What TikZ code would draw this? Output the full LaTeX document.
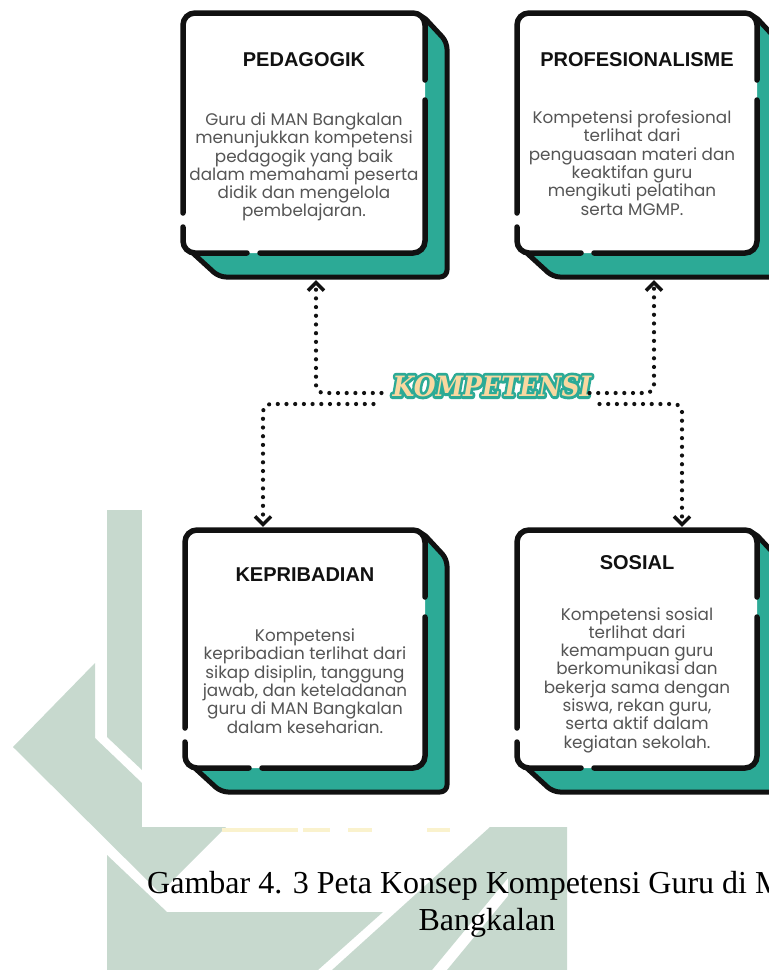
\documentclass[tikz,border=0pt]{standalone}
\usepackage{fontspec}
\usetikzlibrary{arrows.meta,fit}
\setmainfont{Liberation Sans}
\newfontfamily\titlefont{Liberation Sans}
\newfontfamily\bodyfont{Poppins}
\newfontfamily\kompfont{DejaVu Serif}
\newfontfamily\kompout{DejaVu Serif}[BoldItalicFeatures={FakeBold=20}]
\newfontfamily\capfont{Liberation Serif}
\definecolor{tealc}{RGB}{44,170,150}
\definecolor{peach}{RGB}{249,216,160}
\definecolor{wm}{RGB}{199,217,206}
\definecolor{blk}{RGB}{17,17,17}
\definecolor{bodyc}{RGB}{85,85,85}
\definecolor{wmy}{RGB}{250,242,205}
\newcommand\komptext{KOMPETENSI}
\newcommand\kompetensi{\scalebox{1}[1.12]{\fontsize{25}{28}\selectfont\pgfsetroundjoin
  \rlap{\kompout\bfseries\itshape\textcolor{tealc}{\komptext}}%
  {\kompfont\bfseries\itshape\textcolor{peach}{\komptext}}}}
\tikzset{
  titletxt/.style={font=\titlefont\bfseries\fontsize{20}{24}\selectfont, text=blk, inner sep=0pt},
  bodytxt/.style={font=\bodyfont\fontsize{16.8}{18.3}\selectfont, text=bodyc, align=center, inner sep=0pt},
  border/.style={draw=blk, line width=5.5pt, line cap=round, rounded corners=12pt},
  shadow/.style={fill=tealc, draw=blk, line width=5pt, line join=round, rounded corners=7pt},
  whitebox/.style={fill=white, rounded corners=12pt, inner sep=0pt},
  conn/.style={draw=blk, line width=4.2pt, line cap=round, dash pattern=on 0pt off 8.7pt, rounded corners=8pt},
  tipped/.style={-{Straight Barb[length=8pt, width=16pt, line width=3.4pt]}},
  capstyle/.style={font=\capfont\fontsize{32}{36}\selectfont, text=black, inner sep=0pt},
}
\newcommand\kbox[5]{%
  \path[shadow] ({#4-4},{#3+1}) -- ({#4+22},{#3+29}) -- ({#4+22},{#5+24}) -- ({#2+36},{#5+24}) -- ({#2+1},{#5-8}) -- cycle;
  \node[whitebox, fit={(#2,#3) (#4,#5)}] (#1) {};
  \draw[border] (#2,{#5-26}) -- (#2,#5) -- ({#2+64},#5);
  \draw[border] ({#2+77},#5) -- (#4,#5) -- (#4,{#3+87});
  \draw[border] (#4,{#3+67}) -- (#4,#3) -- (#2,#3) -- (#2,{#5-40});
}
\begin{document}
\begin{tikzpicture}[x=1pt,y=-1pt]
\useasboundingbox (0,0) rectangle (769,970);
% watermark
\fill[wm] (107,510) -- (142,510) -- (142,770) -- (107,737) -- cycle;
\fill[wm] (95,663) -- (13,747) -- (160,893) -- (226,827) -- (142,827) -- (142,783) -- (95,738) -- cycle;
\fill[wm] (107,855) -- (167,912) -- (383,912) -- (318,970) -- (107,970) -- cycle;
\fill[wm] (490,827) -- (508,827) -- (508,878) -- (432,970) -- (332,970) -- cycle;
\fill[wm] (508,827) -- (567,827) -- (567,970) -- (447,970) -- (508,896) -- cycle;
\fill[white] (142,0) rectangle (769,827);
\fill[wmy] (222,828) rectangle (298,832);
\fill[wmy] (303,828) rectangle (330,832);
\fill[wmy] (348,828) rectangle (372,832);
\fill[wmy] (427,828) rectangle (450,832);
% boxes
\kbox{ped}{183}{13}{425}{253}
\kbox{prof}{517}{13}{757}{253}
\kbox{kep}{185}{530}{425}{768}
\kbox{sos}{517}{530}{757}{768}
% titles
\node[titletxt] (pedT) at (304,60) {PEDAGOGIK};
\node[titletxt] (profT) at (637,60) {PROFESIONALISME};
\node[titletxt] (kepT) at (305,575) {KEPRIBADIAN};
\node[titletxt] (sosT) at (637,563) {SOSIAL};
% bodies
\node[bodytxt] (pedB) at (304,167) {Guru di MAN Bangkalan\\menunjukkan kompetensi\\pedagogik yang baik\\dalam memahami peserta\\didik dan mengelola\\pembelajaran.};
\node[bodytxt] (profB) at (632,163) {Kompetensi profesional\\terlihat dari\\penguasaan materi dan\\keaktifan guru\\mengikuti pelatihan\\serta MGMP.};
\node[bodytxt] (kepB) at (305,681) {Kompetensi\\kepribadian terlihat dari\\sikap disiplin, tanggung\\jawab, dan keteladanan\\guru di MAN Bangkalan\\dalam keseharian.};
\node[bodytxt] (sosB) at (637,680) {Kompetensi sosial\\terlihat dari\\kemampuan guru\\berkomunikasi dan\\bekerja sama dengan\\siswa, rekan guru,\\serta aktif dalam\\kegiatan sekolah.};
% center
\node[inner sep=0pt] (komp) at (492,386) {\kompetensi};
% connectors
\draw[conn, tipped] ([xshift=-11pt,yshift=-7pt]komp.west) -| ([xshift=12pt,yshift=-27pt]ped.south);
\draw[conn, tipped] ([xshift=-2pt,yshift=-7pt]komp.east) -| ([xshift=17pt,yshift=-27pt]prof.south);
\draw[conn, tipped] ([xshift=-19pt,yshift=-18pt]komp.west) -| ([xshift=-42pt,yshift=3pt]kep.north);
\draw[conn, tipped] ([xshift=8pt,yshift=-18pt]komp.east) -| ([xshift=45pt,yshift=3pt]sos.north);
% caption
\node[capstyle, anchor=base west] (cap1) at (147,893) {Gambar 4. 3 Peta Konsep Kompetensi Guru di M};
\node[capstyle, anchor=base] (cap2) at (487,930) {Bangkalan};
\end{tikzpicture}
\end{document}
